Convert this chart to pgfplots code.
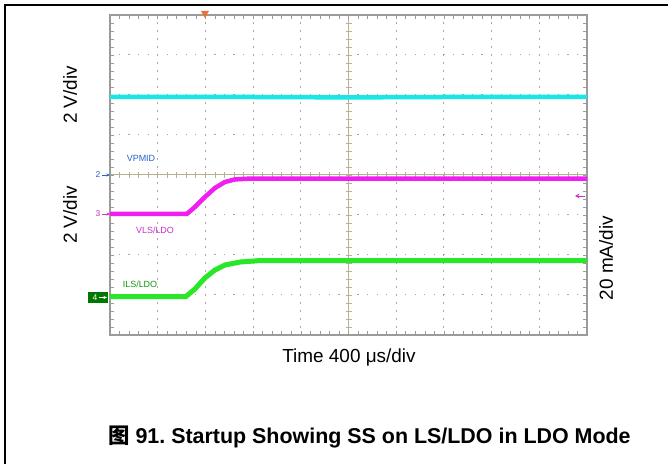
\documentclass[border=0pt]{standalone}
\usepackage{fontspec}
\setmainfont{Liberation Sans}
\newfontfamily\cjk{Noto Sans CJK SC}
\usepackage{pgfplots}
\pgfplotsset{compat=1.18}
\usetikzlibrary{arrows.meta}
\frenchspacing
\definecolor{scgrid}{RGB}{165,165,165}
\definecolor{scborder}{RGB}{155,155,155}
\definecolor{sccenter}{RGB}{185,175,145}
\definecolor{cya}{RGB}{25,230,230}
\definecolor{mag}{RGB}{240,30,240}
\definecolor{grn}{RGB}{40,230,40}
\definecolor{lblue}{RGB}{40,100,200}
\definecolor{lmag}{RGB}{200,50,200}
\definecolor{lgrn}{RGB}{20,150,20}
\definecolor{dgrn}{RGB}{0,120,0}
\definecolor{trig}{RGB}{240,110,50}
\begin{document}
\begin{tikzpicture}
\begin{scope}[x=1bp,y=1bp]
\useasboundingbox (0,0) rectangle (668,464);
\fill[white] (0,0) rectangle (668,464);
% frame
\draw[black, line width=1.4bp] (5,0) -- (5,459) -- (668,459);
% dotted grid
\foreach \i in {1,2,3,4,6,7,8,9}
  \draw[scgrid, line width=1bp, dash pattern=on 1.2bp off 6.8bp, dash phase=0.6bp] (110+47.7*\i,129) -- (110+47.7*\i,449);
\foreach \j in {1,2,3,5,6,7}
  \draw[scgrid, line width=1bp, dash pattern=on 1.2bp off 8.34bp, dash phase=0.6bp] (110,129+40*\j) -- (587,129+40*\j);
% center lines
\draw[sccenter, line width=1bp] (348.5,129) -- (348.5,449);
\draw[sccenter, line width=1bp] (110,289) -- (587,289);
\foreach \k in {1,...,49}
  \draw[sccenter, line width=0.8bp] (110+9.54*\k,286) -- (110+9.54*\k,292);
\foreach \k in {1,...,39}
  \draw[sccenter, line width=0.8bp] (345.5,129+8*\k) -- (351.5,129+8*\k);
\end{scope}
\begin{axis}[at={(110bp,129bp)}, anchor=south west, scale only axis,
  width=477bp, height=320bp, xmin=0, xmax=10, ymin=0, ymax=8,
  xtick={0,...,10}, ytick={0,...,8}, minor x tick num=4, minor y tick num=4,
  xticklabels={}, yticklabels={}, tick align=inside,
  major tick length=4bp, minor tick length=4bp,
  tick style={scborder, line width=0.6bp},
  axis line style={scborder, line width=1.5bp}, clip=false]
\addplot[cya, line width=4.5bp] coordinates {(0,5.95) (3,5.95) (5,5.94) (7,5.95) (10,5.95)};
\addplot[mag, line width=4.5bp] coordinates {(0,3.025) (1.61,3.025) (1.78,3.2) (1.99,3.45) (2.2,3.675) (2.41,3.825) (2.62,3.89) (2.94,3.91) (10,3.91)};
\addplot[grn, line width=5bp] coordinates {(0,0.96) (1.59,0.96) (1.78,1.15) (1.99,1.425) (2.2,1.625) (2.41,1.75) (2.73,1.825) (3.14,1.86) (10,1.86)};
\end{axis}
\begin{scope}[x=1bp,y=1bp]
% trigger marker
\fill[trig] (201,453) -- (209,453) -- (205,446) -- cycle;
% channel markers
\node[text=lblue, font=\fontsize{8.5}{9}\selectfont] at (98,289) {2};
\draw[lblue, line width=0.7bp, -{Stealth[length=3.5bp,width=3bp]}] (102,289) -- (110,289);
\node[text=lmag, font=\fontsize{8.5}{9}\selectfont] at (98,250) {3};
\draw[lmag, line width=0.7bp, -{Stealth[length=3.5bp,width=3bp]}] (102,250) -- (110,250);
\fill[dgrn] (88,161) rectangle (108,172);
\node[text=white, font=\fontsize{8.5}{9}\selectfont] at (95,166.5) {4};
\draw[white, line width=0.7bp, -{Stealth[length=3.5bp,width=3bp]}] (99,166.5) -- (107,166.5);
\draw[lmag, line width=0.8bp, -{Stealth[length=4.5bp,width=4.5bp]}] (585,268) -- (575,268);
% trace labels
\node[text=lblue, font=\fontsize{9}{10}\selectfont] at (141,306) {VPMID};
\node[text=lmag, font=\fontsize{9}{10}\selectfont] at (155,234) {VLS/LDO};
\node[text=lgrn, font=\fontsize{9}{10}\selectfont] at (140,180) {ILS/LDO};
% axis labels
\node[rotate=90, font=\fontsize{19}{22}\selectfont] at (70,369) {2 V/div};
\node[rotate=90, font=\fontsize{19}{22}\selectfont] at (70,249) {2 V/div};
\node[rotate=90, font=\fontsize{19}{22}\selectfont] at (606,206) {20 mA/div};
\node[font=\fontsize{19}{22}\selectfont] at (349,107) {Time 400 μs/div};
% caption
\node[anchor=west, inner sep=0pt, font=\fontsize{21.5}{24}\selectfont\bfseries] at (108,27) {{\cjk 图} 91. Startup Showing SS on LS/LDO in LDO Mode};
\end{scope}
\end{tikzpicture}
\end{document}
